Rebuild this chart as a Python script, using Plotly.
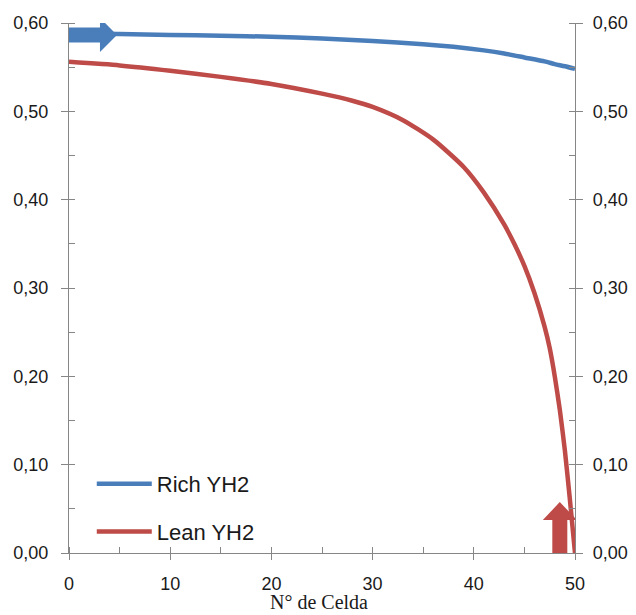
import plotly.graph_objects as go

# Data
rich_x = [0, 5, 10, 15, 20, 25, 30, 35, 38, 41, 43, 45, 47, 48, 49, 50]
rich_y = [0.588, 0.5875, 0.5865, 0.5855, 0.5845, 0.5825, 0.5795, 0.576, 0.573,
          0.569, 0.5655, 0.561, 0.5565, 0.5535, 0.551, 0.548]

lean_x = [0, 5, 10, 15, 20, 25, 28, 30, 33, 36, 39, 41, 43, 44, 45, 46, 47, 47.5, 48, 48.5, 49, 49.5, 50]
lean_y = [0.556, 0.552, 0.546, 0.539, 0.531, 0.520, 0.512, 0.505, 0.490, 0.468, 0.437,
          0.408, 0.372, 0.350, 0.325, 0.294, 0.256, 0.232, 0.200, 0.162, 0.116, 0.060, 0.000]

x_ticks = [0, 10, 20, 30, 40, 50]
y_ticks = [0.0, 0.1, 0.2, 0.3, 0.4, 0.5, 0.6]

BLUE = "#4A7EBB"
RED = "#BE4B48"
AXIS = "#868686"
TXT = "#1a1a1a"

fig = go.Figure()
fig.add_trace(go.Scatter(x=rich_x, y=rich_y, mode="lines", name="Rich YH2",
                         line=dict(color=BLUE, width=4.5, shape="spline", smoothing=0.6),
                         legendgroup="a"))
fig.add_trace(go.Scatter(x=lean_x, y=lean_y, mode="lines", name="Lean YH2",
                         line=dict(color=RED, width=4.5, shape="spline", smoothing=0.6),
                         legendgroup="b"))
# invisible trace to anchor the right-hand axis
fig.add_trace(go.Scatter(x=rich_x, y=rich_y, yaxis="y2", mode="lines",
                         line=dict(width=0), opacity=0, showlegend=False, hoverinfo="skip"))

tickfont = dict(family="Liberation Sans", size=18, color=TXT)

fig.update_layout(
    width=628, height=607,
    margin=dict(l=61, r=61, t=15, b=62),
    paper_bgcolor="white", plot_bgcolor="white",
    separators=", ",
    showlegend=True,
    legend=dict(x=0.045, y=0.0, xanchor="left", yanchor="bottom",
                font=dict(family="Liberation Sans", size=22, color=TXT),
                bgcolor="rgba(0,0,0,0)", tracegroupgap=16, traceorder="grouped",
                itemwidth=55),
    xaxis=dict(range=[0, 50], tickvals=x_ticks, showgrid=False, zeroline=False,
               automargin=False,
               showline=True, linecolor=AXIS, linewidth=1.3,
               ticks="outside", ticklen=6, tickcolor=AXIS, tickwidth=1.3,
               minor=dict(ticks="inside", dtick=5, ticklen=6, tickcolor=AXIS, tickwidth=1.3),
               tickfont=tickfont, ticklabelstandoff=8),
    yaxis=dict(range=[0, 0.6], tickvals=y_ticks, tickformat=".2f", showgrid=False,
               automargin=False,
               zeroline=False, showline=True, linecolor=AXIS, linewidth=1.3,
               ticks="outside", ticklen=7, tickcolor=AXIS, tickwidth=1.3,
               minor=dict(ticks="inside", dtick=0.05, ticklen=6, tickcolor=AXIS, tickwidth=1.3),
               tickfont=tickfont, ticklabelstandoff=9),
    yaxis2=dict(range=[0, 0.6], tickvals=y_ticks, tickformat=".2f", showgrid=False,
                automargin=False,
                zeroline=False, overlaying="y", side="right", showline=True,
                linecolor=AXIS, linewidth=1.3,
                ticks="outside", ticklen=7, tickcolor=AXIS, tickwidth=1.3,
                minor=dict(ticks="inside", dtick=0.05, ticklen=6, tickcolor=AXIS, tickwidth=1.3),
                tickfont=tickfont, ticklabelstandoff=6),
    annotations=[dict(text="N° de Celda", xref="paper", yref="paper", x=0.494, y=-0.093,
                      xanchor="center", yanchor="middle", showarrow=False,
                      font=dict(family="Liberation Serif", size=20, color=TXT))],
)

# Decorative arrows (anchored in data space, sized in pixels)
fig.add_shape(type="path", xref="x", yref="y", xsizemode="pixel", ysizemode="pixel",
              xanchor=4.74, yanchor=0.5865,
              path="M0,0 L-17,17 L-17,7.5 L-51,7.5 L-51,-7.5 L-17,-7.5 L-17,-17 Z",
              fillcolor=BLUE, line=dict(width=0), layer="below")
fig.add_shape(type="path", xref="x", yref="y", xsizemode="pixel", ysizemode="pixel",
              xanchor=48.5, yanchor=0.0,
              path="M-7.5,0 L-7.5,33 L-17,33 L0,51 L17,33 L7.5,33 L7.5,0 Z",
              fillcolor=RED, line=dict(width=0), layer="below")

fig.write_html("out.html")
